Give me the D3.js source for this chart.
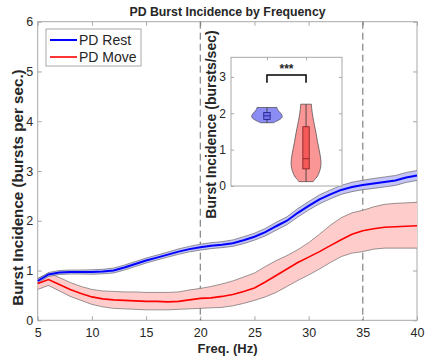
<!DOCTYPE html>
<html>
<head>
<meta charset="utf-8">
<script src="https://cdn.jsdelivr.net/npm/d3@7/dist/d3.min.js"></script>
<style>
	body{margin:0;background:#fff;}
	.canvas{width:425px;height:362px;}
	text{font-family:"Liberation Sans",Arial,Helvetica,sans-serif;fill:#262626;}
</style>
</head>
<body>
<div class="canvas"></div>
<script>
//data
var freqs = [5,6,7,8,9,10,11,12,13,14,15,16,17,18,19,20,21,22,23,24,25,26,27,28,29,30,31,32,33,34,35,36,37,38,39,40];
var restMean = [0.79,0.92,0.96,0.97,0.97,0.97,0.98,1.00,1.06,1.13,1.20,1.26,1.32,1.38,1.43,1.47,1.50,1.52,1.55,1.61,1.68,1.77,1.89,2.00,2.16,2.30,2.43,2.53,2.62,2.68,2.72,2.75,2.78,2.81,2.87,2.91];
var restSem = [0.04,0.04,0.04,0.04,0.04,0.045,0.045,0.05,0.05,0.05,0.05,0.05,0.05,0.055,0.055,0.06,0.06,0.06,0.065,0.07,0.07,0.075,0.08,0.08,0.085,0.085,0.09,0.09,0.09,0.095,0.095,0.1,0.1,0.1,0.1,0.1];
var moveMean = [0.74,0.82,0.72,0.62,0.54,0.47,0.43,0.41,0.40,0.39,0.38,0.38,0.37,0.38,0.41,0.44,0.45,0.48,0.52,0.58,0.65,0.77,0.90,1.03,1.16,1.27,1.38,1.50,1.62,1.73,1.80,1.84,1.87,1.88,1.89,1.90];
var moveHi = [0.84,0.95,0.86,0.76,0.68,0.62,0.59,0.58,0.57,0.57,0.56,0.56,0.56,0.57,0.61,0.64,0.68,0.73,0.79,0.87,0.95,1.08,1.20,1.30,1.42,1.56,1.73,1.91,2.06,2.16,2.21,2.28,2.33,2.35,2.36,2.37];
var moveLo = [0.62,0.70,0.59,0.48,0.40,0.32,0.27,0.24,0.23,0.22,0.21,0.21,0.21,0.22,0.23,0.24,0.25,0.26,0.29,0.34,0.40,0.47,0.56,0.68,0.80,0.91,1.03,1.16,1.28,1.35,1.38,1.43,1.45,1.45,1.45,1.45];
var xTicks = [5,10,15,20,25,30,35,40];
var yTicks = [0,1,2,3,4,5,6];
var bandLines = [20,35];
var seriesNames = ['PD Rest','PD Move'];

//inset violins
var restViolinY = [1.74,1.78,1.82,1.86,1.90,1.94,1.98,2.02,2.06,2.10,2.16];
var restViolinD = [0.42,0.62,0.80,0.93,1.00,0.99,0.94,0.86,0.77,0.70,0.65];
var moveViolinY = [0.12,0.17,0.25,0.35,0.50,0.62,0.75,1.00,1.20,1.45,1.70,1.90,2.10,2.25];
var moveViolinD = [0.47,0.55,0.72,0.84,0.95,0.98,0.96,0.86,0.76,0.66,0.54,0.45,0.38,0.35];
var restBox = {q1:1.83, med:1.93, q3:2.02, lo:1.74, hi:2.16};
var moveBox = {q1:0.47, med:0.75, q3:1.63, lo:0.12, hi:2.25};
var insetTicks = [0,1,2,3];
var sigLabel = '***';

var W = 425, H = 362;

var svg = d3.select('.canvas')
	.append('svg')
	.attr('width',W)
	.attr('height',H);

var x = d3.scaleLinear().domain([5,40]).range([37.7,417]);
var y = d3.scaleLinear().domain([0,6]).range([320.3,21.7]);
var fmt = d3.format('d');

var rows = freqs.map(function(f,i){
	return {f:f, rm:restMean[i], rlo:restMean[i]-restSem[i], rhi:restMean[i]+restSem[i],
		mm:moveMean[i], mlo:moveLo[i], mhi:moveHi[i]};
});

//axes box + ticks
var gAx = svg.append('g');
gAx.append('rect')
	.attr('x',x(5)).attr('y',y(6))
	.attr('width',x(40)-x(5)).attr('height',y(0)-y(6))
	.attr('fill','#fff').attr('stroke','#a8a8a8').attr('stroke-width',1);

gAx.append('g')
	.attr('transform',`translate(0,${y(0)})`)
	.call(d3.axisBottom(x).tickValues(xTicks).tickFormat(fmt).tickSize(-4).tickPadding(8))
	.call(styleAxis);
gAx.append('g')
	.attr('transform',`translate(0,${y(6)})`)
	.call(d3.axisTop(x).tickValues(xTicks).tickSize(-4).tickFormat(''))
	.call(styleAxis);
gAx.append('g')
	.attr('transform',`translate(${x(5)},0)`)
	.call(d3.axisLeft(y).tickValues(yTicks).tickFormat(fmt).tickSize(-4).tickPadding(4.5))
	.call(styleAxis);
gAx.append('g')
	.attr('transform',`translate(${x(40)},0)`)
	.call(d3.axisRight(y).tickValues(yTicks).tickSize(-4).tickFormat(''))
	.call(styleAxis);

function styleAxis(g){
	g.select('.domain').remove();
	g.selectAll('line').attr('stroke','#a8a8a8');
	g.selectAll('text').attr('font-size','12.5px').attr('fill','#262626');
}

//dashed lines
svg.append('g').selectAll('line')
	.data(bandLines)
	.enter()
	.append('line')
	.attr('x1',d=>x(d)).attr('x2',d=>x(d))
	.attr('y1',y(6)).attr('y2',y(0))
	.attr('stroke','#6a6a6a').attr('stroke-width',1)
	.attr('stroke-dasharray','7,4');

//shaded bands
var restArea = d3.area().x(d=>x(d.f)).y0(d=>y(d.rlo)).y1(d=>y(d.rhi));
var moveArea = d3.area().x(d=>x(d.f)).y0(d=>y(d.mlo)).y1(d=>y(d.mhi));

svg.append('path').datum(rows).attr('d',moveArea).attr('fill','#ffcccc');
svg.append('path').datum(rows).attr('d',d3.line().x(d=>x(d.f)).y(d=>y(d.mhi))).attr('fill','none').attr('stroke','#555').attr('stroke-width',0.6);
svg.append('path').datum(rows).attr('d',d3.line().x(d=>x(d.f)).y(d=>y(d.mlo))).attr('fill','none').attr('stroke','#555').attr('stroke-width',0.6);

svg.append('path').datum(rows).attr('d',restArea).attr('fill','#c4c4f6');
svg.append('path').datum(rows).attr('d',d3.line().x(d=>x(d.f)).y(d=>y(d.rhi))).attr('fill','none').attr('stroke','#555').attr('stroke-width',0.6);
svg.append('path').datum(rows).attr('d',d3.line().x(d=>x(d.f)).y(d=>y(d.rlo))).attr('fill','none').attr('stroke','#555').attr('stroke-width',0.6);

//mean lines
svg.append('path').datum(rows)
	.attr('d',d3.line().x(d=>x(d.f)).y(d=>y(d.mm)))
	.attr('fill','none').attr('stroke','#ff0000').attr('stroke-width',1.6);
svg.append('path').datum(rows)
	.attr('d',d3.line().x(d=>x(d.f)).y(d=>y(d.rm)))
	.attr('fill','none').attr('stroke','#0000ff').attr('stroke-width',2);

//labels
svg.append('text')
	.attr('x',227.5).attr('y',16)
	.attr('text-anchor','middle')
	.attr('font-size','12.3px').attr('font-weight','bold').attr('fill','#000')
	.text('PD Burst Incidence by Frequency');
svg.append('text')
	.attr('x',227.5).attr('y',353)
	.attr('text-anchor','middle')
	.attr('font-size','13px').attr('font-weight','bold')
	.text('Freq. (Hz)');
svg.append('text')
	.attr('transform','translate(22.5,187.5) rotate(-90)')
	.attr('text-anchor','middle')
	.attr('font-size','15.2px').attr('font-weight','bold')
	.text('Burst Incidence (bursts per sec.)');

//legend
var leg = svg.append('g');
leg.append('rect')
	.attr('x',46).attr('y',29).attr('width',95).attr('height',37)
	.attr('fill','#fff').attr('stroke','#a8a8a8');
leg.selectAll('.leg-line')
	.data(seriesNames)
	.enter()
	.append('line')
	.attr('x1',50).attr('x2',77)
	.attr('y1',(d,i)=>40+i*17).attr('y2',(d,i)=>40+i*17)
	.attr('stroke',(d,i)=>i===0?'#0000ff':'#ff0000')
	.attr('stroke-width',(d,i)=>i===0?2:1.6);
leg.selectAll('.leg-text')
	.data(seriesNames)
	.enter()
	.append('text')
	.attr('x',79).attr('y',(d,i)=>45+i*17)
	.attr('font-size','14px').attr('fill','#000')
	.text(d=>d);

//inset
var ix = d3.scaleLinear().domain([0.08,2.92]).range([231,342]);
var iy = d3.scaleLinear().domain([0,3.54]).range([186,57.3]);
var wScale = d3.scaleLinear().domain([0,1]).range([0,0.39]);

var inset = svg.append('g');
inset.append('rect')
	.attr('x',231).attr('y',57.3).attr('width',111).attr('height',186-57.3)
	.attr('fill','#fff').attr('stroke','#a8a8a8');
inset.append('g')
	.attr('transform',`translate(${ix(0.08)},0)`)
	.call(d3.axisLeft(iy).tickValues(insetTicks).tickFormat(fmt).tickSize(-3).tickPadding(5))
	.call(styleAxis)
	.selectAll('text').attr('font-size','12px');
inset.append('g')
	.attr('transform',`translate(${ix(2.92)},0)`)
	.call(d3.axisRight(iy).tickValues(insetTicks).tickSize(-3).tickFormat(''))
	.call(styleAxis);
inset.append('g')
	.attr('transform',`translate(0,${iy(3.54)})`)
	.call(d3.axisTop(ix).tickValues([1,2]).tickSize(-3).tickFormat(''))
	.call(styleAxis);
inset.append('text')
	.attr('transform','translate(215.5,124.5) rotate(-90)')
	.attr('text-anchor','middle')
	.attr('font-size','14px').attr('font-weight','bold')
	.text('Burst Incidence (bursts/sec)');

var violins = [
	{pos:1, ys:restViolinY, ds:restViolinD, box:restBox, fill:'#8c8cf5', boxFill:'#7373f0', boxStroke:'#1c1c80'},
	{pos:2, ys:moveViolinY, ds:moveViolinD, box:moveBox, fill:'#fa9696', boxFill:'#f55a5a', boxStroke:'#801c1c'}
];

violins.forEach(function(v){
	var pts = v.ys.map((yy,i)=>({y:yy, d:v.ds[i]}));
	var area = d3.area()
		.y(d=>iy(d.y))
		.x0(d=>ix(v.pos - wScale(d.d)))
		.x1(d=>ix(v.pos + wScale(d.d)))
		.curve(d3.curveCatmullRom);
	inset.append('path').datum(pts)
		.attr('d',area)
		.attr('fill',v.fill).attr('stroke','#444').attr('stroke-width',0.7);
	//whisker
	inset.append('line')
		.attr('x1',ix(v.pos)).attr('x2',ix(v.pos))
		.attr('y1',iy(v.box.lo)).attr('y2',iy(v.box.hi))
		.attr('stroke','#333').attr('stroke-width',0.8);
	//box
	inset.append('rect')
		.attr('x',ix(v.pos)-3.2).attr('width',6.4)
		.attr('y',iy(v.box.q3)).attr('height',iy(v.box.q1)-iy(v.box.q3))
		.attr('fill',v.boxFill).attr('stroke',v.boxStroke).attr('stroke-width',0.8);
	inset.append('line')
		.attr('x1',ix(v.pos)-3.2).attr('x2',ix(v.pos)+3.2)
		.attr('y1',iy(v.box.med)).attr('y2',iy(v.box.med))
		.attr('stroke',v.boxStroke).attr('stroke-width',0.8);
});

//significance bracket
inset.append('path')
	.attr('d',`M${ix(1)},${iy(2.84)}V${iy(3.05)}H${ix(2)}V${iy(2.84)}`)
	.attr('fill','none').attr('stroke','#000').attr('stroke-width',1.5);
inset.append('text')
	.attr('x',(ix(1)+ix(2))/2).attr('y',iy(3.05)-2)
	.attr('text-anchor','middle')
	.attr('font-size','12px').attr('font-weight','bold').attr('fill','#000')
	.text(sigLabel);
</script>
</body>
</html>
